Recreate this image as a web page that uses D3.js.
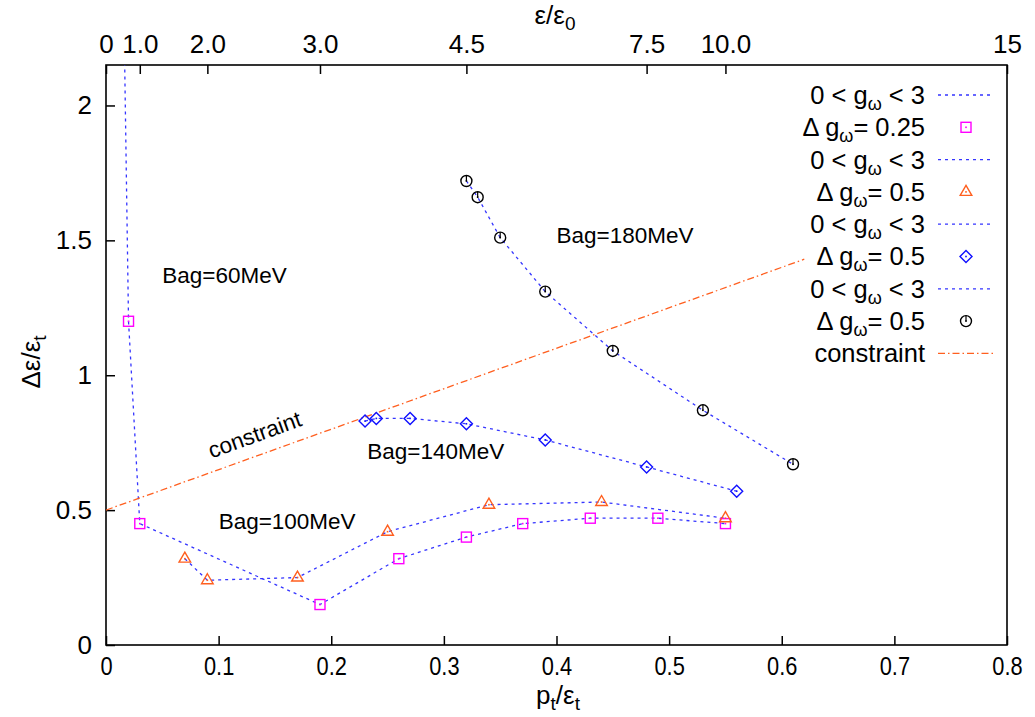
<!DOCTYPE html>
<html><head><meta charset="utf-8">
<script src="https://cdn.jsdelivr.net/npm/d3@7/dist/d3.min.js"></script>
<style>
html,body{margin:0;padding:0;background:#fff;}
svg{display:block;font-family:"Liberation Sans",Arial,Helvetica,sans-serif;}
</style></head>
<body>
<svg id="chart" width="1035" height="717"></svg>
<script>
// ---- data ----
const xTicks = [0, 0.1, 0.2, 0.3, 0.4, 0.5, 0.6, 0.7, 0.8];
const yTicks = [0, 0.5, 1, 1.5, 2];
const topTickPos = [0, 0.03, 0.09, 0.19, 0.32, 0.48, 0.55, 0.8];
const topTickLabels = ["0", "1.0", "2.0", "3.0", "4.5", "7.5", "10.0", "15"];

const sqX = [0.015, 0.02, 0.03, 0.19, 0.26, 0.32, 0.37, 0.43, 0.49, 0.55];
const sqY = [2.6, 1.2, 0.45, 0.15, 0.32, 0.40, 0.45, 0.47, 0.47, 0.45];
const triX = [0.07, 0.09, 0.17, 0.25, 0.34, 0.44, 0.55];
const triY = [0.32, 0.24, 0.25, 0.42, 0.52, 0.53, 0.47];
const diaX = [0.23, 0.24, 0.27, 0.32, 0.39, 0.48, 0.56];
const diaY = [0.83, 0.84, 0.84, 0.82, 0.76, 0.66, 0.57];
const cirX = [0.32, 0.33, 0.35, 0.39, 0.45, 0.53, 0.61];
const cirY = [1.72, 1.66, 1.51, 1.31, 1.09, 0.87, 0.67];
const consX = [0, 0.62];
const consY = [0.5, 1.43];

const bagLabels = ["Bag=60MeV", "Bag=100MeV", "Bag=140MeV", "Bag=180MeV"];
const bagLabelX = [0.05, 0.10, 0.232, 0.4];
const bagLabelY = [1.37, 0.46, 0.72, 1.52];

// ---- layout ----
const L = 106, R = 1007, T = 65, B = 645;
const svg = d3.select("#chart");
const x = d3.scaleLinear().domain([0, 0.8]).range([L, R]);
const y = d3.scaleLinear().domain([0, 2.15]).range([B, T]);

const BLUE = "#3535ff", MAG = "#ff00ff", ORG = "#ff5f1f", DBLUE = "#1010ff";

svg.append("defs").append("clipPath").attr("id", "clip")
  .append("rect").attr("x", L).attr("y", T).attr("width", R - L).attr("height", B - T);

// axes
const fs = 26;
const gBottom = svg.append("g").attr("transform", `translate(0,${B})`)
  .call(d3.axisBottom(x).tickValues(xTicks).tickFormat(d => d === 0 ? "0" : d3.format(".1f")(d)).tickSizeInner(-9).tickSizeOuter(0).tickPadding(12));
gBottom.selectAll("text").attr("font-size", fs).attr("fill", "#000")
  .attr("transform", "scale(0.84,1)").attr("dy", "0.71em");
const gLeft = svg.append("g").attr("transform", `translate(${L},0)`)
  .call(d3.axisLeft(y).tickValues(yTicks).tickFormat(d => String(d)).tickSizeInner(-9).tickSizeOuter(0).tickPadding(14));
gLeft.selectAll("text").attr("font-size", fs).attr("fill", "#000");
const gTop = svg.append("g").attr("transform", `translate(0,${T})`)
  .call(d3.axisTop(x).tickValues(topTickPos).tickFormat((d, i) => topTickLabels[i]).tickSizeInner(-9).tickSizeOuter(0).tickPadding(12));
gTop.selectAll("text").attr("font-size", fs).attr("fill", "#000");
[gBottom, gLeft, gTop].forEach(g => {
  g.select(".domain").remove();
  g.selectAll("line").attr("stroke", "#000").attr("stroke-width", 1.5);
});

// border
svg.append("rect").attr("x", L).attr("y", T).attr("width", R - L).attr("height", B - T)
  .attr("fill", "none").attr("stroke", "#000").attr("stroke-width", 1.6);

// axis titles
const xt = svg.append("text").attr("x", 558).attr("y", 704).attr("text-anchor", "middle").attr("font-size", fs);
xt.append("tspan").text("p");
xt.append("tspan").attr("font-size", 19).attr("dy", 6).text("t");
xt.append("tspan").attr("dy", -6).text("/ε");
xt.append("tspan").attr("font-size", 19).attr("dy", 6).text("t");

const tt = svg.append("text").attr("x", 555).attr("y", 24).attr("text-anchor", "middle").attr("font-size", fs);
tt.append("tspan").text("ε/ε");
tt.append("tspan").attr("font-size", 19).attr("dy", 6).text("0");

const yt = svg.append("text").attr("transform", "translate(40,362) rotate(-90)").attr("text-anchor", "middle").attr("font-size", fs);
yt.append("tspan").text("Δε/ε");
yt.append("tspan").attr("font-size", 19).attr("dy", 6).text("t");

// series
const plot = svg.append("g").attr("clip-path", "url(#clip)");
const lineGen = d3.line().x(d => x(d[0])).y(d => y(d[1]));
const zip = (a, b) => a.map((v, i) => [v, b[i]]);

const series = [
  {xs: sqX, ys: sqY, sym: "square", color: MAG},
  {xs: triX, ys: triY, sym: "triangle", color: ORG},
  {xs: diaX, ys: diaY, sym: "diamond", color: DBLUE},
  {xs: cirX, ys: cirY, sym: "circle", color: "#000"}
];

series.forEach(s => {
  plot.append("path").datum(zip(s.xs, s.ys)).attr("d", lineGen)
    .attr("fill", "none").attr("stroke", BLUE).attr("stroke-width", 1.3).attr("stroke-dasharray", "3,4");
});

plot.append("path").datum(zip(consX, consY)).attr("d", lineGen)
  .attr("fill", "none").attr("stroke", ORG).attr("stroke-width", 1.3).attr("stroke-dasharray", "7,3,1.5,3");

function marker(g, sym, color, cx, cy) {
  const m = g.append("g").attr("transform", `translate(${cx},${cy})`);
  if (sym === "square") m.append("rect").attr("x", -5).attr("y", -5).attr("width", 10).attr("height", 10);
  else if (sym === "triangle") m.append("path").attr("d", "M0,-6.5L5.8,3.5L-5.8,3.5Z");
  else if (sym === "diamond") m.append("path").attr("d", "M0,-6L6,0L0,6L-6,0Z");
  else m.append("circle").attr("r", 5.5);
  m.selectAll("rect,path,circle").attr("fill", "none").attr("stroke", color).attr("stroke-width", 1.4);
  m.append("rect").attr("x", -0.8).attr("y", -0.8).attr("width", 1.6).attr("height", 1.6).attr("fill", color);
  if (sym === "circle") m.append("line").attr("x1", 0).attr("y1", 0).attr("x2", 0).attr("y2", -5.5).attr("stroke", color).attr("stroke-width", 1.2);
}

series.forEach(s => {
  s.xs.forEach((v, i) => marker(plot, s.sym, s.color, x(v), y(s.ys[i])));
});

// in-plot labels
bagLabels.forEach((t, i) => {
  svg.append("text").attr("x", x(bagLabelX[i])).attr("y", y(bagLabelY[i])).attr("font-size", 22.5)
    .attr("dy", "0.35em").text(t);
});
const cAng = Math.atan2(y(consY[1]) - y(consY[0]), x(consX[1]) - x(consX[0])) * 180 / Math.PI;
svg.append("text").attr("transform", `translate(${x(0.132)},${y(0.78)}) rotate(${cAng})`)
  .attr("text-anchor", "middle").attr("font-size", 22.5).attr("dy", "0.35em").text("constraint");

// legend
const legRows = [
  {kind: "line", text: "range"},
  {kind: "sym", sym: "square", color: MAG, val: "0.25"},
  {kind: "line", text: "range"},
  {kind: "sym", sym: "triangle", color: ORG, val: "0.5"},
  {kind: "line", text: "range"},
  {kind: "sym", sym: "diamond", color: DBLUE, val: "0.5"},
  {kind: "line", text: "range"},
  {kind: "sym", sym: "circle", color: "#000", val: "0.5"},
  {kind: "cons", text: "constraint"}
];
const leg = svg.append("g");
const lfs = 25.5;
legRows.forEach((r, i) => {
  const ry = 95 + i * 32.3;
  const t = leg.append("text").attr("x", 925).attr("y", ry).attr("text-anchor", "end").attr("font-size", lfs).attr("dy", "0.35em");
  if (r.kind === "line") {
    t.append("tspan").text("0 < g");
    t.append("tspan").attr("font-size", 18).attr("dy", 6).text("ω");
    t.append("tspan").attr("dy", -6).text(" < 3");
    leg.append("line").attr("x1", 938).attr("x2", 993).attr("y1", ry).attr("y2", ry)
      .attr("stroke", BLUE).attr("stroke-width", 1.3).attr("stroke-dasharray", "3,4");
  } else if (r.kind === "sym") {
    t.append("tspan").text("Δ g");
    t.append("tspan").attr("font-size", 18).attr("dy", 6).text("ω");
    t.append("tspan").attr("dy", -6).text("= " + r.val);
    marker(leg, r.sym, r.color, 966, ry);
  } else {
    t.text(r.text);
    leg.append("line").attr("x1", 938).attr("x2", 993).attr("y1", ry).attr("y2", ry)
      .attr("stroke", ORG).attr("stroke-width", 1.3).attr("stroke-dasharray", "7,3,1.5,3");
  }
});
</script>
</body></html>
